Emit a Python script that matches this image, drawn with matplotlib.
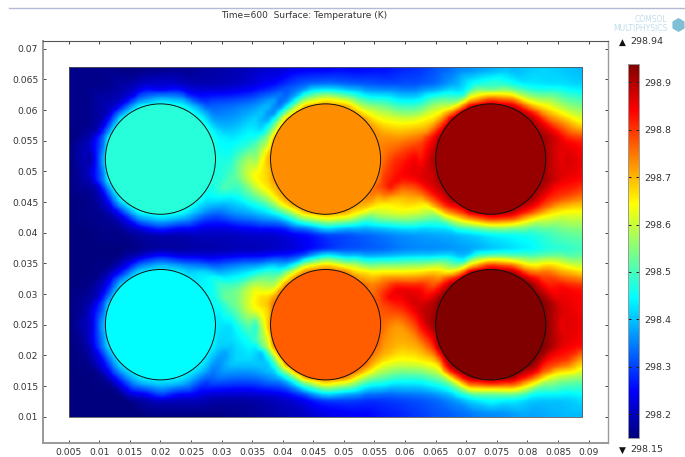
import numpy as np
import matplotlib
matplotlib.use("Agg")
import matplotlib.pyplot as plt
import matplotlib.tri as mtri
from matplotlib.colors import LinearSegmentedColormap
from matplotlib.patches import Circle, Rectangle, RegularPolygon

W, H = 685, 457
plt.rcParams['font.family'] = ['DejaVu Sans']

x_grid = [0.005 + 0.003 * i for i in range(29)]
y_grid = [0.067, 0.064, 0.061, 0.058, 0.055, 0.052, 0.049, 0.046, 0.043, 0.040,
          0.037, 0.034, 0.031, 0.028, 0.025, 0.022, 0.019, 0.016, 0.013, 0.010]

# Temperature, hundredths of a kelvin above 298 K
row_067 = [16,16,16,15,15,15,16,17,18,19,20,21,22,23,23,24,24,25,27,28,31,33,34,36,38,40,41,40,39]
row_064 = [16,16,16,18,21,22,21,19,19,20,22,25,30,33,34,33,32,31,31,31,33,38,46,50,47,43,42,42,41]
row_061 = [16,16,19,30,42,47,42,32,32,33,35,40,58,70,72,66,58,52,47,47,56,74,88,91,90,75,62,55,52]
row_058 = [16,16,22,47,47,47,47,47,40,38,42,62,72,72,72,72,72,66,64,65,76,91,91,91,91,91,86,72,64]
row_055 = [15,19,35,47,47,47,47,47,42,44,47,66,72,72,72,72,72,72,74,77,87,91,91,91,91,91,90,85,82]
row_052 = [15,21,42,47,47,47,47,47,47,50,60,70,72,72,72,72,72,72,81,86,90,91,91,91,91,91,91,88,85]
row_049 = [15,19,35,47,47,47,47,47,46,51,64,72,72,72,72,72,72,76,84,86,89,91,91,91,91,91,90,86,84]
row_046 = [15,16,22,47,47,47,47,47,42,45,52,66,72,72,72,72,72,66,70,72,80,91,91,91,91,91,86,80,76]
row_043 = [15,16,17,24,40,47,40,28,32,36,38,42,50,60,66,62,60,60,62,60,56,64,80,90,84,70,66,62,62]
row_040 = [15,15,16,16,18,19,19,20,20,20,21,21,23,25,29,30,32,34,36,37,38,39,41,44,45,46,49,52,53]
row_037 = [15,15,15,15,16,17,17,18,18,19,19,20,21,24,27,30,31,32,34,35,35,36,37,39,41,43,46,47,49]
row_034 = [15,15,16,22,34,44,36,33,36,39,42,47,52,62,72,68,64,62,62,63,66,76,88,93,92,85,74,68,64]
row_031 = [15,16,22,44,44,44,44,44,42,52,62,72,78,78,78,78,78,80,86,85,89,94,94,94,94,94,90,85,83]
row_028 = [15,18,32,44,44,44,44,44,45,52,64,76,78,78,78,78,78,78,81,88,92,94,94,94,94,94,93,86,84]
row_025 = [15,21,40,44,44,44,44,44,44,45,54,74,78,78,78,78,78,74,72,80,90,94,94,94,94,94,94,87,85]
row_022 = [15,18,32,44,44,44,44,44,41,42,46,66,78,78,78,78,78,68,70,72,86,94,94,94,94,94,92,86,84]
row_019 = [15,16,20,44,44,44,44,44,38,42,42,58,78,78,78,78,78,62,63,64,74,94,94,94,94,94,90,80,68]
row_016 = [15,15,16,19,34,44,36,33,33,32,32,35,48,64,70,60,54,50,46,46,50,58,72,88,82,68,59,54,52]
row_013 = [15,15,15,15,18,20,20,20,18,18,18,19,21,25,29,30,29,29,30,31,33,37,43,47,44,41,40,40,42]
row_010 = [15,15,15,15,15,15,15,15,15,16,17,18,19,20,22,23,24,26,27,29,31,32,33,34,35,37,38,39,39]

rows = [row_067, row_064, row_061, row_058, row_055, row_052, row_049, row_046, row_043, row_040,
        row_037, row_034, row_031, row_028, row_025, row_022, row_019, row_016, row_013, row_010]

circle_x = [0.020, 0.047, 0.074, 0.020, 0.047, 0.074]
circle_y = [0.052, 0.052, 0.052, 0.025, 0.025, 0.025]
circle_t = [298.476, 298.733, 298.92, 298.445, 298.77, 298.94]
circle_r = 0.009

# Halo temperature around each circle, counter-clockwise from east in 16 steps (same units as rows)
near_tl = [46,44,42,42,38,37,36,33,30,35,38,40,40,42,42,47]
far_tl  = [47,41,33,26,22,22,20,18,17,18,22,24,27,31,37,52]
near_tm = [78,72,66,64,62,60,56,55,66,68,68,62,60,66,72,80]
far_tm  = [81,70,58,47,41,38,32,42,55,64,52,42,40,47,62,85]
near_tr = [88,90,86,80,74,72,76,84,88,88,87,78,76,84,88,90]
far_tr  = [85,84,70,58,50,44,62,72,82,85,74,58,52,62,78,84]
near_bl = [42,46,44,40,38,37,35,31,33,36,38,40,40,41,41,41]
far_bl  = [42,54,45,28,24,22,22,19,20,22,25,29,30,31,33,37]
near_bm = [74,80,72,66,66,66,64,70,62,60,58,56,60,64,70,72]
far_bm  = [72,86,68,50,42,36,50,68,45,38,40,35,40,46,57,70]
near_br = [90,92,88,82,76,72,84,90,90,80,85,82,72,84,90,92]
far_br  = [85,85,78,60,48,42,70,84,84,72,58,55,50,62,76,85]
near_rings = [near_tl, near_tm, near_tr, near_bl, near_bm, near_br]
far_rings = [far_tl, far_tm, far_tr, far_bl, far_bm, far_br]

t_min, t_max = 298.15, 298.94
x_ticks = [0.005, 0.01, 0.015, 0.02, 0.025, 0.03, 0.035, 0.04, 0.045, 0.05, 0.055,
           0.06, 0.065, 0.07, 0.075, 0.08, 0.085, 0.09]
x_labels = ['0.005', '0.01', '0.015', '0.02', '0.025', '0.03', '0.035', '0.04', '0.045', '0.05',
            '0.055', '0.06', '0.065', '0.07', '0.075', '0.08', '0.085', '0.09']
y_ticks = [0.01, 0.015, 0.02, 0.025, 0.03, 0.035, 0.04, 0.045, 0.05, 0.055, 0.06, 0.065, 0.07]
y_labels = ['0.01', '0.015', '0.02', '0.025', '0.03', '0.035', '0.04', '0.045', '0.05', '0.055',
            '0.06', '0.065', '0.07']
cb_ticks = [298.2, 298.3, 298.4, 298.5, 298.6, 298.7, 298.8, 298.9]
cb_labels = ['298.2', '298.3', '298.4', '298.5', '298.6', '298.7', '298.8', '298.9']

cmap = LinearSegmentedColormap.from_list('rainbow_fem', [
    (0.0, (0, 0, 0.5)), (0.125, (0, 0, 1)), (0.375, (0, 1, 1)),
    (0.625, (1, 1, 0)), (0.875, (1, 0, 0)), (1.0, (0.5, 0, 0))], N=256)
norm = plt.Normalize(t_min, t_max)

# One unstructured point set: background grid away from the circles plus rings round them
T_grid = 298 + np.array(rows) / 100.0
GX, GY = np.meshgrid(x_grid, y_grid)
keep = np.ones(GX.shape, dtype=bool)
for cx, cy in zip(circle_x, circle_y):
    keep &= np.hypot(GX - cx, GY - cy) >= circle_r + 0.0029
px, py, pt = [GX[keep]], [GY[keep]], [T_grid[keep]]
angles = np.deg2rad(np.arange(16) * 22.5)
for cx, cy, ct, near, far in zip(circle_x, circle_y, circle_t, near_rings, far_rings):
    for radius, vals in ((circle_r, None), (circle_r + 0.001, near), (circle_r + 0.0025, far)):
        px.append(cx + radius * np.cos(angles))
        py.append(cy + radius * np.sin(angles))
        pt.append(np.full(16, ct) if vals is None else 298 + np.array(vals) / 100.0)
px, py, pt = np.concatenate(px), np.concatenate(py), np.concatenate(pt)
tri = mtri.Triangulation(px, py)
field = mtri.LinearTriInterpolator(tri, pt)

# Evaluate the mesh on a raster of the domain; imshow's gaussian filter softens the facets
raster_step = 0.001
rx = 0.005 + raster_step * (np.arange(84) + 0.5)
ry = 0.010 + raster_step * (np.arange(57) + 0.5)
RX, RY = np.meshgrid(rx, ry)
raster = np.ma.filled(field(RX, RY), np.nan)
raster = np.where(np.isnan(raster), t_min, raster)

fig = plt.figure(figsize=(W / 100, H / 100), dpi=100)


def ax_rect(l, t, r, b):
    return [l / W, 1 - b / H, (r - l) / W, (b - t) / H]


ax = fig.add_axes(ax_rect(43, 41, 607.5, 443))
ax.imshow(raster, origin='lower', extent=(0.005, 0.089, 0.010, 0.067), cmap=cmap, norm=norm,
          interpolation='gaussian', aspect='auto')
ax.set_xlim(0.00080, 0.09310)
ax.set_ylim(0.00571, 0.07125)
ax.add_patch(Rectangle((0.005, 0.010), 0.084, 0.057, fill=False, ec='#555555', lw=0.6))
for cx, cy, ct in zip(circle_x, circle_y, circle_t):
    ax.add_patch(Circle((cx, cy), circle_r, fc=cmap(norm(ct)), ec='#101010', lw=0.7))

ax.set_xticks(x_ticks)
ax.set_xticklabels(x_labels)
ax.set_yticks(y_ticks)
ax.set_yticklabels(y_labels)
ax.tick_params(axis='both', which='major', direction='in', length=2.5, width=0.7,
               color='#444444', labelsize=6.6, labelcolor='#333333', pad=3.5,
               top=True, right=True)
ax.spines['left'].set_linewidth(1.4)
ax.spines['bottom'].set_linewidth(1.4)
ax.spines['left'].set_color('#999999')
ax.spines['bottom'].set_color('#999999')
ax.spines['top'].set_color('#555555')
ax.spines['right'].set_color('#999999')
ax.spines['top'].set_linewidth(0.8)
ax.spines['right'].set_linewidth(1.0)

cax = fig.add_axes(ax_rect(628, 63.5, 639, 437.7))
cb = fig.colorbar(plt.cm.ScalarMappable(norm=norm, cmap=cmap), cax=cax)
cax.set_ylim(298.15, 298.94)
cb.set_ticks(cb_ticks)
cb.set_ticklabels(cb_labels)
cax.tick_params(direction='in', length=2, width=0.7, color='#222222', labelsize=6.8,
                labelcolor='#333333', pad=4, left=True, right=True)
cb.outline.set_edgecolor('#999999')
cb.outline.set_linewidth(0.7)

fig.add_artist(plt.Line2D([9 / W, 1], [1 - 7.5 / H] * 2, color='#b4bad6', lw=1.0))
fig.text(304 / W, 1 - 16 / H, 'Time=600  Surface: Temperature (K)', ha='center', va='center',
         fontsize=6.5, color='#333333')
fig.text(622 / W, 1 - 42 / H, '\u25b2', ha='center', va='center', fontsize=6.5, color='#111111')
fig.text(630 / W, 1 - 42 / H, '298.94', ha='left', va='center', fontsize=6.8, color='#333333')
fig.text(622 / W, 1 - 450 / H, '\u25bc', ha='center', va='center', fontsize=6.5, color='#111111')
fig.text(630 / W, 1 - 450 / H, '298.15', ha='left', va='center', fontsize=6.8, color='#333333')
fig.text(667 / W, 1 - 19.5 / H, 'COMSOL', ha='right', va='center', fontsize=5.5, color='#c0dfeb')
fig.text(668 / W, 1 - 28.5 / H, 'MULTIPHYSICS', ha='right', va='center', fontsize=5.5, color='#c0dfeb')
fig.add_artist(RegularPolygon((678.5, H - 25), 6, radius=7, transform=None,
                              fc='#7fbfd6', ec='none'))

fig.savefig('out.png', dpi=100)
